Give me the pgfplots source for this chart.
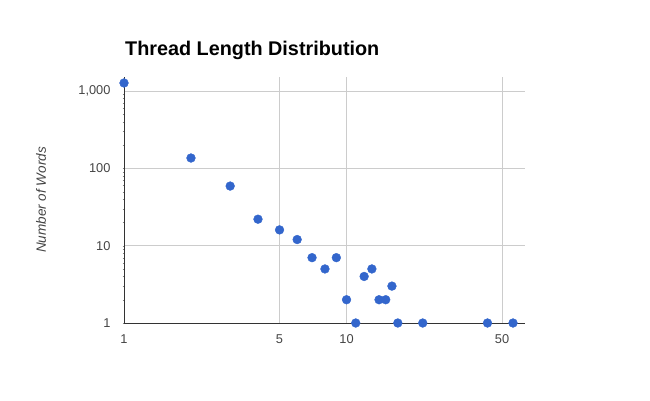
\documentclass[border=0pt]{standalone}
\usepackage{pgfplots}
\pgfplotsset{compat=1.18}
\usepackage{fontspec}
\setmainfont{Liberation Sans}
\definecolor{gblue}{HTML}{3366CC}
\definecolor{gridc}{HTML}{CCCCCC}
\definecolor{axc}{HTML}{333333}
\definecolor{tickc}{HTML}{444444}
\begin{document}
\begin{tikzpicture}[x=1bp,y=1bp]
\path[use as bounding box] (0,0) rectangle (650,400);
\node[anchor=base west, inner sep=0pt, font=\fontsize{19.8bp}{24bp}\selectfont\bfseries] at (125,345) {Thread Length Distribution};
\begin{axis}[
  at={(124bp,77bp)}, anchor=south west,
  scale only axis, width=401bp, height=246bp,
  xmode=log, ymode=log,
  xmin=1, xmax=63.4, ymin=1, ymax=1518,
  axis x line=bottom, axis y line=left,
  axis line style={draw=axc, line width=0.8bp, -},
  xtick={1,5,10,50}, xticklabels={1,5,10,50},
  ytick={1,10,100,1000}, yticklabels={1,10,100,{1,000}},
  minor xtick={}, minor ytick={},
  major tick length=0,
  grid=major,
  major grid style={draw=gridc, line width=0.8bp},
  tick label style={font=\fontsize{12.8bp}{14bp}\selectfont, text=tickc},
  /pgf/number format/assume math mode=true,
  xticklabel style={yshift=-8bp},
  yticklabel style={xshift=-10bp},
  ylabel={Number of Words},
  every axis y label/.style={at={(rel axis cs:0,0.5)}, xshift=-83bp, rotate=90, anchor=center, font=\fontsize{13.5bp}{15bp}\selectfont\itshape, text=tickc},
  clip=false,
]
\addplot[only marks, mark=*, mark size=4.4bp, mark options={fill=gblue, draw=gblue}] coordinates {
(1,1270) (2,136) (3,59) (4,22) (5,16) (6,12) (7,7) (8,5) (9,7) (10,2)
(11,1) (12,4) (13,5) (14,2) (15,2) (16,3) (17,1) (22,1) (43,1) (56,1)
};
\end{axis}
\end{tikzpicture}
\end{document}
